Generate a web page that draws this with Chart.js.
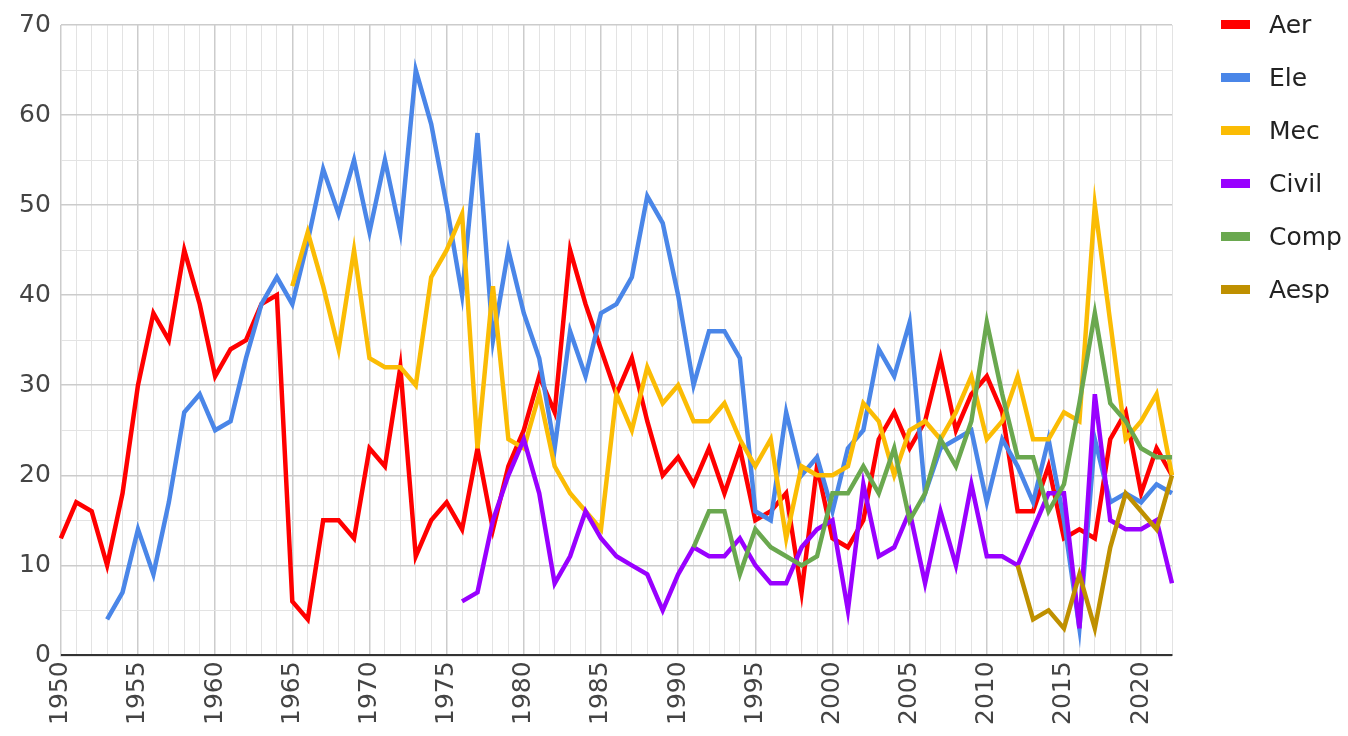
<!DOCTYPE html>
<html>
<head>
<meta charset="utf-8">
<script src="https://cdn.jsdelivr.net/npm/chart.js@4.4.1/dist/chart.umd.min.js"></script>
<style>
  html, body { margin: 0; padding: 0; background: #fff; }
  .wrap { position: relative; width: 1348px; height: 736px; }
  .legend { position: absolute; left: 1221px; top: 8px; margin: 0; padding: 0; list-style: none;
            font-family: "DejaVu Sans", sans-serif; font-size: 25px; color: #222; }
  .legend li { display: flex; align-items: center; height: 32px; margin-bottom: 21px; }
  .legend .sw { display: inline-block; width: 29px; height: 9px; margin-right: 19px; }
</style>
</head>
<body>
<div class="wrap">
  <canvas id="c" width="1348" height="736"></canvas>
  <ul class="legend"></ul>
</div>
<script>
const firstYear = 1950;
const lastYear = 2022;
const years = [];
for (let y = firstYear; y <= lastYear; y++) years.push(y);

// each series starts at its own year, earlier years are empty
const aerStart = 1950;
const aer = [13, 17, 16, 10, 18, 30, 38, 35, 45, 39, 31, 34, 35, 39, 40, 6, 4, 15, 15, 13,
  23, 21, 32, 11, 15, 17, 14, 23, 14, 21, 25, 31, 27, 45, 39, 34, 29, 33, 26, 20,
  22, 19, 23, 18, 23, 15, 16, 18, 7, 21, 13, 12, 15, 24, 27, 23, 26, 33, 25, 29,
  31, 27, 16, 16, 21, 13, 14, 13, 24, 27, 18, 23, 20];

const eleStart = 1953;
const ele = [4, 7, 14, 9, 17, 27, 29, 25, 26, 33, 39, 42, 39, 46, 54, 49, 55,
  47, 55, 47, 65, 59, 50, 40, 58, 35, 45, 38, 33, 23, 36, 31, 38, 39, 42, 51, 48,
  40, 30, 36, 36, 33, 16, 15, 27, 20, 22, 16, 23, 25, 34, 31, 37, 18, 23, 24, 25,
  17, 24, 21, 17, 24, 15, 3, 24, 17, 18, 17, 19, 18];

const mecStart = 1965;
const mec = [41, 47, 41, 34, 45, 33, 32, 32, 30, 42, 45, 49, 23, 41, 24, 23, 29, 21, 18, 16,
  14, 29, 25, 32, 28, 30, 26, 26, 28, 24, 21, 24, 13, 21, 20, 20, 21, 28, 26, 20,
  25, 26, 24, 27, 31, 24, 26, 31, 24, 24, 27, 26, 50, 37, 24, 26, 29, 20];

const civilStart = 1976;
const civil = [6, 7, 15, 20, 24, 18, 8, 11, 16, 13, 11, 10, 9, 5, 9, 12, 11, 11, 13,
  10, 8, 8, 12, 14, 15, 5, 19, 11, 12, 16, 8, 16, 10, 19, 11, 11, 10, 14, 18,
  18, 3, 29, 15, 14, 14, 15, 8];

const compStart = 1991;
const comp = [12, 16, 16, 9, 14, 12, 11, 10, 11, 18, 18, 21, 18, 23, 15, 18, 24, 21, 26,
  37, 29, 22, 22, 16, 19, 28, 38, 28, 26, 23, 22, 22];

const aespStart = 2012;
const aesp = [10, 4, 5, 3, 9, 3, 12, 18, 16, 14, 20];

const names = ["Aer", "Ele", "Mec", "Civil", "Comp", "Aesp"];
const colors = ["#ff0000", "#4a86e8", "#fbbc04", "#9900ff", "#6aa84f", "#bf9000"];
const series = [[aerStart, aer], [eleStart, ele], [mecStart, mec],
                [civilStart, civil], [compStart, comp], [aespStart, aesp]];

const pad = (start, vals) => years.map(y => (y < start ? null : vals[y - start] ?? null));

const datasets = series.map(([start, vals], i) => ({
  label: names[i],
  data: pad(start, vals),
  borderColor: colors[i],
  backgroundColor: colors[i],
  borderWidth: 4.5,
  pointRadius: 0,
  tension: 0,
  order: series.length - i
}));

const tickFont = { family: "DejaVu Sans", size: 25 };

new Chart(document.getElementById("c"), {
  type: "line",
  data: { labels: years, datasets },
  options: {
    responsive: false,
    animation: false,
    layout: { padding: { left: 9, right: 176, top: 13, bottom: 5 } },
    plugins: { legend: { display: false }, tooltip: { enabled: false } },
    scales: {
      x: {
        grid: {
          color: c => (c.index % 5 === 0 ? "#cccccc" : "#e3e3e3"),
          lineWidth: c => (c.index % 5 === 0 ? 1.5 : 1),
          drawTicks: false
        },
        border: { color: "#333333", width: 2 },
        ticks: {
          autoSkip: false, minRotation: 90, maxRotation: 90, padding: 6,
          color: "#444444", font: tickFont,
          callback: (v, i) => (years[i] % 5 === 0 ? String(years[i]) : "")
        }
      },
      y: {
        min: 0, max: 70,
        grid: {
          color: c => (c.tick.value % 10 === 0 ? "#cccccc" : "#e3e3e3"),
          lineWidth: c => (c.tick.value % 10 === 0 ? 1.5 : 1),
          drawTicks: false
        },
        border: { color: "#cccccc" },
        ticks: {
          stepSize: 5, autoSkip: false, padding: 10,
          color: "#444444", font: tickFont,
          callback: v => (v % 10 === 0 ? String(v) : "")
        }
      }
    }
  }
});

const ul = document.querySelector(".legend");
names.forEach((n, i) => {
  const li = document.createElement("li");
  li.innerHTML = `<span class="sw" style="background:${colors[i]}"></span>${n}`;
  ul.appendChild(li);
});
</script>
</body>
</html>
